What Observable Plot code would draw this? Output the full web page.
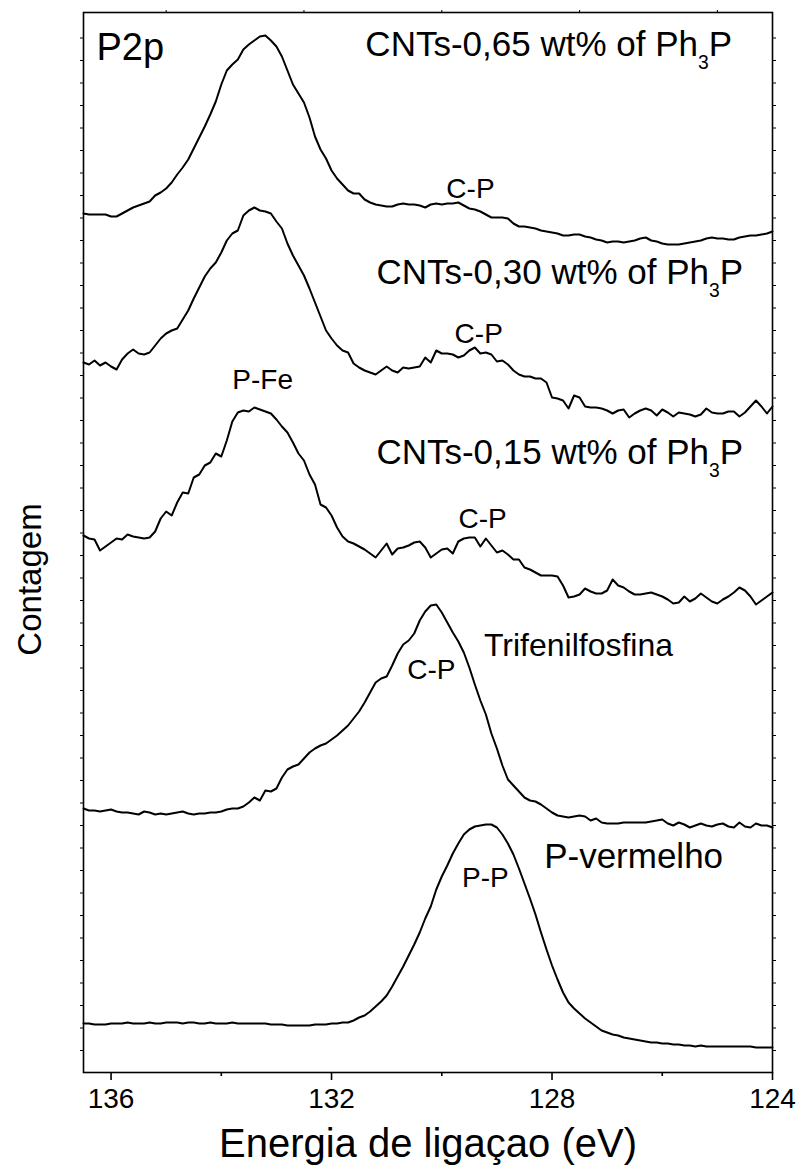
<!DOCTYPE html>
<html>
<head>
<meta charset="utf-8">
<script src="https://cdn.jsdelivr.net/npm/d3@7"></script>
<script src="https://cdn.jsdelivr.net/npm/@observablehq/plot@0.6"></script>
<style>
  html, body { margin: 0; padding: 0; background: #fff; }
</style>
</head>
<body>
<div id="chart"></div>
<script>
// P2p XPS spectra, stacked; binding energy sampled from 136.5 eV down to 124.0 eV in 0.1 eV steps
const energyStart = 136.5;
const energyStep = 0.1;
const nPoints = 126;
const energy = Array.from({length: nPoints}, (_, i) => Math.round((energyStart - i * energyStep) * 10) / 10);

// Intensities (a.u., stacked offsets included), one value per energy point
const cnt065 = [
  859,858,858,858,858,856,856,859,862,865,
  867,869,871,877,880,884,890,898,905,913,
  924,935,946,958,971,988,1002,1008,1013,1023,
  1028,1032,1036,1037,1032,1026,1016,1002,988,979,
  970,955,936,923,914,902,894,888,882,879,
  879,873,870,868,867,866,866,868,869,868,
  868,867,865,868,869,868,869,869,870,867,
  864,863,861,858,855,855,855,854,849,846,
  846,845,844,842,841,840,839,837,837,838,
  838,836,835,833,832,830,831,831,830,831,
  832,834,835,832,831,829,828,828,828,829,
  830,831,832,834,835,834,834,833,833,835,
  836,837,837,838,839,841
];
const cnt030 = [
  710,708,712,707,710,706,703,713,719,723,
  719,718,720,727,734,739,742,744,753,762,
  774,785,796,804,810,820,832,839,842,857,
  862,865,862,861,859,851,844,829,817,807,
  797,784,770,756,742,734,727,722,720,709,
  705,702,700,698,702,706,702,700,705,704,
  705,706,715,710,722,719,719,718,715,717,
  722,725,719,720,718,711,712,708,702,698,
  696,696,694,694,690,675,674,672,664,677,
  675,666,665,665,664,662,659,662,663,655,
  659,662,664,662,657,663,660,656,660,659,
  658,656,658,664,660,659,659,661,661,656,
  660,666,672,666,659,666
];
const cnt015 = [
  537,534,533,522,526,530,534,533,538,536,
  535,534,535,541,554,561,557,570,580,579,
  595,598,607,610,619,616,632,651,660,662,
  661,665,663,661,659,653,646,640,630,619,
  612,598,588,568,565,557,545,536,531,529,
  526,523,519,515,522,529,518,524,525,527,
  530,531,525,515,519,523,524,519,531,534,
  535,535,526,534,527,520,522,518,513,513,
  505,503,500,497,497,497,496,487,475,476,
  478,484,481,479,479,482,493,487,485,481,
  478,478,479,480,478,476,473,469,470,476,
  471,474,479,475,471,469,473,476,480,485,
  482,476,468,472,476,480
];
const trifenilfosfina = [
  264,262,262,261,262,263,261,260,260,259,
  258,261,260,258,259,258,259,260,261,259,
  258,259,259,260,260,261,263,264,264,266,
  270,275,272,282,281,284,295,303,306,308,
  314,320,324,327,329,333,337,342,347,354,
  361,370,380,390,394,396,407,419,428,432,
  439,452,461,467,468,460,450,440,431,420,
  405,388,372,358,339,324,307,293,287,281,
  275,272,271,268,264,260,257,256,255,256,
  257,256,252,254,250,249,249,249,250,250,
  250,250,250,251,252,253,249,247,250,248,
  245,247,249,247,246,248,249,246,245,250,
  246,245,249,247,247,245
];
const pVermelho = [
  49,49,48,48,48,49,49,49,50,49,
  49,49,50,49,49,50,50,50,49,50,
  50,49,49,50,49,49,49,50,49,49,
  49,49,49,49,48,48,48,47,47,47,
  47,47,48,48,48,49,49,50,50,52,
  55,57,61,66,71,77,86,96,106,117,
  128,140,154,166,183,196,207,219,229,238,
  243,246,247,248,248,245,238,229,218,204,
  189,174,158,140,123,107,93,80,70,64,
  59,54,50,46,42,40,38,37,35,34,
  33,32,31,30,30,29,29,28,28,27,
  27,26,27,26,26,26,26,26,26,26,
  26,26,25,25,25,25
];

const seriesNames = ["CNTs-0,65", "CNTs-0,30", "CNTs-0,15", "Trifenilfosfina", "P-vermelho"];
const seriesValues = [cnt065, cnt030, cnt015, trifenilfosfina, pVermelho];

// Axis ticks
const majorTicks = [136, 132, 128, 124];
const minorTicks = [134, 130, 126];
const topTicks = [135, 132.5, 130, 127.5, 125];
const sideTicks = Array.from({length: 46}, (_, k) => 22 + 22.5 * k);

// Annotations: text, anchor energy (eV), anchor intensity (baseline)
const annotationText = ["CNTs-0,65 wt% of Ph₃P", "C-P", "CNTs-0,30 wt% of Ph₃P", "C-P", "P-Fe",
                        "CNTs-0,15 wt% of Ph₃P", "C-P", "Trifenilfosfina", "C-P", "P-vermelho", "P-P"];
const annotationEnergy = [128.06, 129.48, 127.86, 129.33, 133.25, 127.86, 129.26, 127.52, 130.19, 126.52, 129.21];
const annotationCount = [1017, 875, 789, 730, 684, 609, 545, 417, 394, 205, 186];
const annotationSize = [35, 28, 35, 28, 28, 35, 28, 32, 28, 35, 28];

const table = seriesNames.flatMap((name, s) =>
  energy.map((e, i) => ({series: name, energy: e, counts: seriesValues[s][i]}))
);
const annotations = annotationText.map((t, i) => ({
  text: t, energy: annotationEnergy[i], counts: annotationCount[i], size: annotationSize[i]
}));

const font = "'Liberation Sans', Arial, Helvetica, sans-serif";

const chart = Plot.plot({
  width: 801,
  height: 1169,
  marginLeft: 83,
  marginRight: 29,
  marginTop: 12,
  marginBottom: 97,
  style: {fontFamily: font, fontSize: "28px", background: "#fff", color: "#000"},
  x: {domain: [136.5, 124], label: null},
  y: {domain: [0, 1060], label: null},
  marks: [
    Plot.frame({stroke: "#000", strokeWidth: 1.6}),
    Plot.axisX({anchor: "bottom", ticks: majorTicks, tickSize: 8, tickPadding: 8, strokeWidth: 1.6,
                fontSize: 28, tickFormat: d => String(d), label: null}),
    Plot.axisX({anchor: "bottom", ticks: minorTicks, tickSize: 4, strokeWidth: 1.6,
                tickFormat: () => "", label: null}),
    Plot.axisX({anchor: "top", ticks: topTicks, tickSize: 3, strokeWidth: 1,
                tickFormat: () => "", label: null}),
    Plot.axisY({anchor: "left", ticks: sideTicks, tickSize: 3, strokeWidth: 1,
                tickFormat: () => "", label: null}),
    Plot.axisY({anchor: "right", ticks: sideTicks, tickSize: 3, strokeWidth: 1,
                tickFormat: () => "", label: null}),
    Plot.line(table, {x: "energy", y: "counts", z: "series", stroke: "#000",
                      strokeWidth: 2, strokeLinejoin: "round", curve: "linear"}),
    Plot.text(annotations, {x: "energy", y: "counts", text: "text", fontSize: "size",
                            textAnchor: "middle", lineAnchor: "bottom", fill: "#000"}),
    Plot.text(["P2p"], {frameAnchor: "top-left", dx: 13, dy: 47, fontSize: 38,
                        textAnchor: "start", lineAnchor: "bottom", fill: "#000"}),
    Plot.text(["Contagem"], {frameAnchor: "left", dx: -53, dy: 37, rotate: -90, fontSize: 33,
                             textAnchor: "middle", lineAnchor: "middle", fill: "#000"}),
    Plot.text(["Energia de ligaçao (eV)"], {frameAnchor: "bottom", dy: 72, fontSize: 40,
                             textAnchor: "middle", lineAnchor: "middle", fill: "#000"})
  ]
});

// Render the "3" of Ph₃P as a proper lowered subscript
const ns = "http://www.w3.org/2000/svg";
for (const t of chart.querySelectorAll("text")) {
  const s = t.textContent;
  if (!s.includes("₃") || t.querySelector("tspan")) continue;
  const fs = parseFloat(t.getAttribute("font-size")) || 35;
  const [a, b] = s.split("₃");
  t.textContent = "";
  const t1 = document.createElementNS(ns, "tspan");
  t1.textContent = a;
  const t2 = document.createElementNS(ns, "tspan");
  t2.textContent = "3";
  t2.setAttribute("font-size", (fs * 0.55).toFixed(1));
  t2.setAttribute("dy", (fs * 0.38).toFixed(1));
  const t3 = document.createElementNS(ns, "tspan");
  t3.textContent = b;
  t3.setAttribute("dy", (-fs * 0.38).toFixed(1));
  t.append(t1, t2, t3);
}

document.getElementById("chart").append(chart);
</script>
</body>
</html>
